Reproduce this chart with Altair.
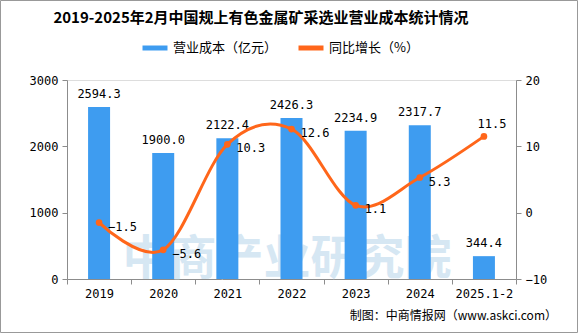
import altair as alt
import pandas as pd

years = ["2019", "2020", "2021", "2022", "2023", "2024", "2025.1-2"]
cost = [2594.3, 1900.0, 2122.4, 2426.3, 2234.9, 2317.7, 344.4]
growth = [-1.5, -5.6, 10.3, 12.6, 1.1, 5.3, 11.5]

title_text = "2019-2025年2月中国规上有色金属矿采选业营业成本统计情况"
s_cost = "营业成本（亿元）"
s_growth = "同比增长（%）"
footer_text = "制图：中商情报网（www.askci.com）"
watermark = "中商产业研究院"

BLUE = "#3E9CF0"
ORANGE = "#FF661A"
GRAY = "#8c8c8c"
CJK = "Noto Sans CJK SC"
NUM = "DejaVu Sans Mono"

df = pd.DataFrame({"year": years, "cost": cost, "growth": growth})
df["s1"] = s_cost
df["s2"] = s_growth
last = years[-1]

color_scale = alt.Scale(domain=[s_cost, s_growth], range=[BLUE, ORANGE])
legend = alt.Legend(
    title=None, orient="none", legendX=73, legendY=-47, direction="horizontal",
    symbolType="stroke", symbolStrokeWidth=5, symbolSize=625,
    labelFont=CJK, labelFontSize=13, labelColor="#000", columnPadding=10,
    labelOffset=3,
)

x = alt.X(
    "year:N", sort=years,
    scale=alt.Scale(paddingInner=0, paddingOuter=0),
    axis=alt.Axis(title=None, labelAngle=0, tickBand="extent", domainColor=GRAY,
                  tickColor=GRAY, tickSize=5, labelFont=NUM, labelFontSize=12,
                  labelColor="#000", labelPadding=4),
)

y1 = alt.Y("cost:Q", scale=alt.Scale(domain=[0, 3000]),
           axis=alt.Axis(orient="left", title=None, values=[0, 1000, 2000, 3000], format="d",
                         grid=False, domainColor=GRAY, tickColor=GRAY, tickSize=5, labelFont=NUM,
                         labelFontSize=12, labelColor="#000", labelPadding=4))
y2 = alt.Y("growth:Q", scale=alt.Scale(domain=[-10, 20]),
           axis=alt.Axis(orient="right", title=None, values=[-10, 0, 10, 20], format="d",
                         grid=False, domainColor=GRAY, tickColor=GRAY, tickSize=5, labelFont=NUM,
                         labelFontSize=12, labelColor="#000", labelPadding=4))

base = alt.Chart(df)

one = alt.Data(values=[{}])

title = alt.Chart(one).mark_text(
    text=title_text, font=CJK, fontSize=15, fontWeight="bold", color="#000",
    align="center", baseline="middle",
).encode(x=alt.value(194), y=alt.value(-62))

wm = alt.Chart(one).mark_text(
    text=watermark, font=CJK, fontSize=47, fontWeight="bold", color="#d6e7f3",
    align="center", baseline="middle",
).encode(x=alt.value(220), y=alt.value(180))

bars = base.mark_bar(size=22).encode(
    x=x, y=y1, color=alt.Color("s1:N", scale=color_scale, legend=legend))
bar_text = base.mark_text(font=NUM, fontSize=12, color="#000", baseline="bottom", dy=-6).encode(
    x=x, y=y1, text=alt.Text("cost:Q", format=".1f"))
left = alt.layer(bars, bar_text)

line = base.mark_line(strokeWidth=3, interpolate="cardinal").encode(
    x=x, y=y2, color=alt.Color("s2:N", scale=color_scale, legend=legend))
pts = base.mark_point(filled=True, size=45, opacity=1, color=ORANGE).encode(x=x, y=y2)
ltext = base.transform_filter(alt.datum.year != last).mark_text(
    font=NUM, fontSize=12, color="#000", align="left", baseline="middle", dx=9, dy=4
).encode(x=x, y=y2, text=alt.Text("growth:Q", format=".1f"))
ltext2 = base.transform_filter(alt.datum.year == last).mark_text(
    font=NUM, fontSize=12, color="#000", align="center", baseline="bottom", dx=8, dy=-5
).encode(x=x, y=y2, text=alt.Text("growth:Q", format=".1f"))
right = alt.layer(line, pts, ltext, ltext2)

footer = alt.Chart(one).mark_text(
    text=footer_text, font=CJK, fontSize=12, color="#000", align="right", baseline="middle",
).encode(x=alt.value(490), y=alt.value(236))

border = alt.Chart(one).mark_rect(
    fill=None, stroke="#999", strokeWidth=1,
).encode(x=alt.value(-66.5), x2=alt.value(510.5), y=alt.value(-79.5), y2=alt.value(252.5))

chart = alt.layer(title, wm, left, right, footer, border).resolve_scale(y="independent").properties(
    width=449, height=199,
    padding={"left": 67, "top": 80, "right": 62, "bottom": 54},
    autosize=alt.AutoSizeParams(type="none"),
).configure_view(stroke=None).configure(background="white")

chart.save("out.html", embed_options={"renderer": "svg", "actions": False})
